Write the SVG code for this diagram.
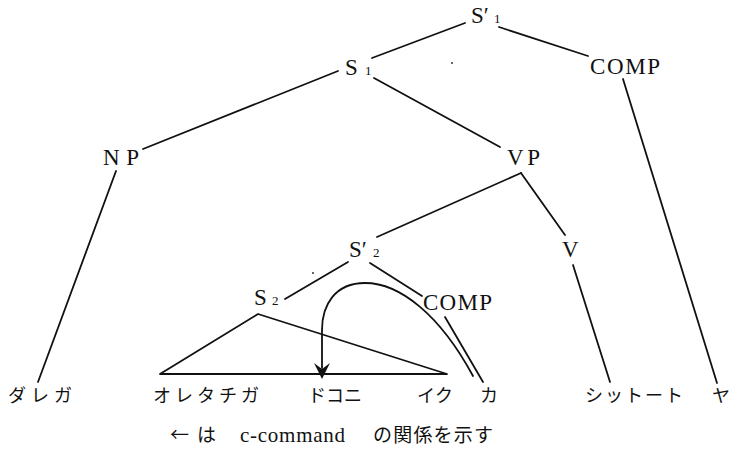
<svg xmlns="http://www.w3.org/2000/svg" width="730" height="450" viewBox="0 0 730 450">
<style>
.lbl{font-family:"Liberation Serif","DejaVu Serif",serif;font-size:23px;fill:#111}
.sub{font-size:13px}
.jp{font-family:"Noto Sans CJK JP","Noto Sans",sans-serif;font-size:18px;fill:#111}
.cap{font-family:"Liberation Serif","DejaVu Serif",serif;font-size:21px;fill:#111}
.capj{font-family:"Noto Sans CJK JP",sans-serif;font-size:19px;fill:#111}
.edge{stroke:#111;stroke-width:1.8;fill:none;stroke-linecap:round;stroke-linejoin:round}
</style>
<rect width="730" height="450" fill="#fff"/>
<g id="connectors">
<line class="edge" x1="465" y1="23" x2="372" y2="58"/>
<line class="edge" x1="499" y1="27" x2="588" y2="56"/>
<line class="edge" x1="338" y1="71" x2="143" y2="149"/>
<line class="edge" x1="374" y1="78" x2="500" y2="147"/>
<line class="edge" x1="623" y1="79" x2="717" y2="383"/>
<line class="edge" x1="116" y1="171" x2="38" y2="382"/>
<line class="edge" x1="521" y1="173" x2="377" y2="237"/>
<line class="edge" x1="521" y1="173" x2="565" y2="235"/>
<line class="edge" x1="573" y1="265" x2="610" y2="382"/>
<line class="edge" x1="348" y1="262" x2="285" y2="299"/>
<line class="edge" x1="370" y1="263" x2="422" y2="296"/>
<line class="edge" x1="445" y1="317" x2="483" y2="382"/>
<polygon class="edge" points="160,374 258,314 447,374"/>
<path class="edge" d="M 473 376 C 440 315, 400 283, 365 283 C 335 283, 322 305, 322 330 L 322 368"/>
<polygon points="322,379 314,363 322,369 330,363" fill="#111"/>
</g>
<g id="S1p"><text class="lbl" x="471" y="23">S′<tspan class="sub" x="494">1</tspan></text></g>
<g id="S1"><text class="lbl" x="345" y="75">S<tspan class="sub" x="365">1</tspan></text></g>
<g id="COMP1"><text class="lbl" x="590" y="74" textLength="70" lengthAdjust="spacing">COMP</text></g>
<g id="NP"><text class="lbl" x="103" y="165" textLength="36" lengthAdjust="spacing">N P</text></g>
<g id="VP"><text class="lbl" x="507" y="165" textLength="33" lengthAdjust="spacing">VP</text></g>
<g id="S2p"><text class="lbl" x="349" y="257">S′<tspan class="sub" x="373">2</tspan></text></g>
<g id="S2"><text class="lbl" x="254" y="305">S<tspan class="sub" x="272">2</tspan></text></g>
<g id="COMP2"><text class="lbl" x="423" y="310" textLength="69" lengthAdjust="spacing">COMP</text></g>
<g id="V"><text class="lbl" x="562" y="257">V</text></g>
<g id="w1"><text class="jp" x="8" y="402" textLength="64" lengthAdjust="spacing">ダレガ</text></g>
<g id="w2"><text class="jp" x="153" y="402" textLength="106" lengthAdjust="spacing">オレタチガ</text></g>
<g id="w3"><text class="jp" x="308" y="402" textLength="54" lengthAdjust="spacing">ドコニ</text></g>
<g id="w4"><text class="jp" x="417" y="402" textLength="36" lengthAdjust="spacing">イク</text></g>
<g id="w5"><text class="jp" x="480" y="402">カ</text></g>
<g id="w6"><text class="jp" x="585" y="402" textLength="98" lengthAdjust="spacing">シットート</text></g>
<g id="w7"><text class="jp" x="712" y="402">ヤ</text></g>
<g id="caption">
<text class="capj" x="170" y="442">←</text>
<text class="capj" x="197" y="442">は</text>
<text class="cap" x="240" y="442" textLength="105" lengthAdjust="spacing">c-command</text>
<text class="capj" x="373" y="442" textLength="120" lengthAdjust="spacing">の関係を示す</text>
</g>
<circle cx="452" cy="63" r="1" fill="#333"/>
<circle cx="313" cy="273" r="1" fill="#333"/>
</svg>
